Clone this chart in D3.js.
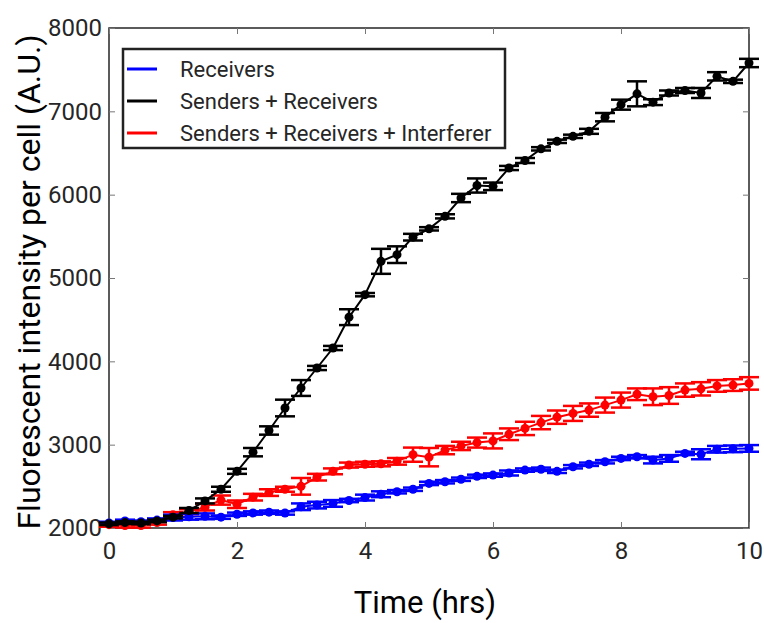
<!DOCTYPE html>
<html>
<head>
<meta charset="utf-8">
<script src="https://cdn.jsdelivr.net/npm/d3@7"></script>
<style>
    body { margin: 0; background: #fff; }
    #plot { width: 764px; height: 623px; }
    text { font-family: Roboto, "Noto Sans", sans-serif; }
</style>
</head>
<body>
<div id="plot"></div>
<script>
// Time points (hrs)
const times = [0, 0.25, 0.5, 0.75, 1, 1.25, 1.5, 1.75, 2, 2.25, 2.5, 2.75, 3, 3.25, 3.5, 3.75, 4, 4.25, 4.5, 4.75,
    5, 5.25, 5.5, 5.75, 6, 6.25, 6.5, 6.75, 7, 7.25, 7.5, 7.75, 8, 8.25, 8.5, 8.75, 9, 9.25, 9.5, 9.75, 10];

// Receivers
const receivers = [2060, 2085, 2075, 2095, 2125, 2135, 2140, 2130, 2165, 2180, 2190, 2180, 2255, 2275, 2295, 2330, 2365, 2405, 2435, 2465,
    2535, 2555, 2585, 2620, 2635, 2660, 2695, 2705, 2680, 2735, 2765, 2795, 2835, 2855, 2815, 2835, 2895, 2885, 2945, 2950, 2955];
const receiversErr = [15, 15, 15, 20, 35, 35, 35, 20, 20, 20, 20, 20, 40, 40, 40, 20, 35, 35, 20, 20,
    20, 20, 20, 20, 20, 30, 20, 20, 20, 20, 20, 20, 20, 20, 40, 40, 20, 60, 40, 40, 40];

// Senders + Receivers
const sendersReceivers = [2050, 2065, 2060, 2085, 2130, 2210, 2325, 2465, 2680, 2910, 3170, 3440, 3680, 3920, 4160, 4530, 4800, 5200, 5280, 5490,
    5590, 5740, 5960, 6110, 6100, 6320, 6410, 6550, 6640, 6700, 6760, 6930, 7080, 7210, 7110, 7220, 7250, 7220, 7420, 7360, 7580];
const sendersReceiversErr = [15, 15, 15, 15, 15, 30, 30, 30, 30, 50, 50, 100, 95, 25, 25, 95, 20, 150, 100, 40,
    20, 25, 50, 85, 45, 25, 30, 20, 20, 20, 30, 50, 60, 150, 35, 30, 30, 60, 50, 20, 50];

// Senders + Receivers + Interferer
const interferer = [2040, 2030, 2030, 2065, 2160, 2195, 2250, 2335, 2285, 2370, 2425, 2465, 2500, 2610, 2680, 2755, 2765, 2770, 2800, 2880,
    2850, 2935, 2985, 3025, 3045, 3125, 3195, 3265, 3330, 3375, 3415, 3475, 3535, 3605, 3575, 3590, 3655, 3670, 3705, 3715, 3735];
const interfererErr = [25, 25, 25, 25, 30, 30, 40, 55, 45, 40, 40, 30, 100, 40, 35, 30, 30, 30, 40, 85,
    110, 50, 50, 60, 90, 70, 80, 80, 80, 90, 80, 90, 90, 70, 100, 100, 80, 80, 70, 70, 75];

const xTicks = [0, 2, 4, 6, 8, 10];
const yTicks = [2000, 3000, 4000, 5000, 6000, 7000, 8000];

const series = [
    {name: "Senders + Receivers + Interferer", values: interferer, err: interfererErr, color: "#ff0000"},
    {name: "Receivers", values: receivers, err: receiversErr, color: "#0000ff"},
    {name: "Senders + Receivers", values: sendersReceivers, err: sendersReceiversErr, color: "#000000"}
];
const legendOrder = ["Receivers", "Senders + Receivers", "Senders + Receivers + Interferer"];

const width = 764, height = 623;
const margin = {top: 28, right: 15, bottom: 95, left: 109};
const innerWidth = width - margin.left - margin.right;
const innerHeight = height - margin.top - margin.bottom;
const axisColor = "#262626";

const svg = d3.select("#plot")
    .append("svg")
    .attr("width", width)
    .attr("height", height);

const g = svg.append("g")
    .attr("transform", `translate(${margin.left},${margin.top})`);

const x = d3.scaleLinear().domain([0, 10]).range([0, innerWidth]);
const y = d3.scaleLinear().domain([2000, 8000]).range([innerHeight, 0]);

// Box with inward ticks on all sides
g.append("rect")
    .attr("width", innerWidth)
    .attr("height", innerHeight)
    .attr("fill", "none")
    .attr("stroke", axisColor)
    .attr("stroke-width", 1.5);

const tickLen = 6;
const xAxis = g.append("g")
    .attr("transform", `translate(0,${innerHeight})`)
    .call(d3.axisBottom(x).tickValues(xTicks).tickSize(-tickLen).tickPadding(14).tickFormat(d3.format("d")));
const yAxis = g.append("g")
    .call(d3.axisLeft(y).tickValues(yTicks).tickSize(-tickLen).tickPadding(7).tickFormat(d3.format("d")));
const xTop = g.append("g")
    .call(d3.axisTop(x).tickValues(xTicks).tickSize(-tickLen));
const yRight = g.append("g")
    .attr("transform", `translate(${innerWidth},0)`)
    .call(d3.axisRight(y).tickValues(yTicks).tickSize(-tickLen));
// top and right only keep the tick marks
xTop.selectAll("text").remove();
yRight.selectAll("text").remove();

g.selectAll(".domain").remove();
g.selectAll(".tick line").attr("stroke", "#777").attr("stroke-width", 1);
[xAxis, yAxis].forEach(ax => ax.selectAll("text")
    .attr("fill", axisColor)
    .style("font-size", "24px"));

// Draw each series: error bars, line, markers
const cap = 10;
series.forEach(s => {
    const pts = times.map((t, i) => ({t: t, v: s.values[i], e: s.err[i]}));
    const sg = g.append("g");

    const eb = sg.selectAll(".eb").data(pts).enter().append("g")
        .attr("stroke", s.color)
        .attr("stroke-width", 2.5);
    eb.append("line")
        .attr("x1", d => x(d.t)).attr("x2", d => x(d.t))
        .attr("y1", d => y(d.v - d.e)).attr("y2", d => y(d.v + d.e));
    eb.append("line")
        .attr("x1", d => x(d.t) - cap).attr("x2", d => x(d.t) + cap)
        .attr("y1", d => y(d.v - d.e)).attr("y2", d => y(d.v - d.e));
    eb.append("line")
        .attr("x1", d => x(d.t) - cap).attr("x2", d => x(d.t) + cap)
        .attr("y1", d => y(d.v + d.e)).attr("y2", d => y(d.v + d.e));

    sg.append("path")
        .datum(pts)
        .attr("fill", "none")
        .attr("stroke", s.color)
        .attr("stroke-width", 2)
        .attr("d", d3.line().x(d => x(d.t)).y(d => y(d.v)));

    sg.selectAll("circle").data(pts).enter().append("circle")
        .attr("cx", d => x(d.t))
        .attr("cy", d => y(d.v))
        .attr("r", 4.5)
        .attr("fill", s.color);
});

// Legend
const legend = g.append("g").attr("transform", "translate(14,21)");
legend.append("rect")
    .attr("width", 382)
    .attr("height", 99)
    .attr("fill", "#fff")
    .attr("stroke", "#222")
    .attr("stroke-width", 2.5);
legendOrder.forEach((name, i) => {
    const s = series.find(d => d.name === name);
    const ly = 20 + i * 32;
    legend.append("line")
        .attr("x1", 4).attr("x2", 34)
        .attr("y1", ly).attr("y2", ly)
        .attr("stroke", s.color)
        .attr("stroke-width", 3);
    legend.append("text")
        .attr("x", 57)
        .attr("y", ly)
        .attr("dy", "0.35em")
        .attr("fill", axisColor)
        .style("font-size", "22px")
        .text(name);
});

// Axis labels
svg.append("text")
    .attr("x", margin.left + innerWidth / 2 - 4)
    .attr("y", 613)
    .attr("text-anchor", "middle")
    .attr("fill", "#000")
    .style("font-size", "31px")
    .text("Time (hrs)");

svg.append("text")
    .attr("transform", `translate(40,${margin.top + innerHeight / 2 + 4}) rotate(-90)`)
    .attr("text-anchor", "middle")
    .attr("fill", "#000")
    .style("font-size", "32px")
    .text("Fluorescent intensity per cell (A.U.)");
</script>
</body>
</html>
